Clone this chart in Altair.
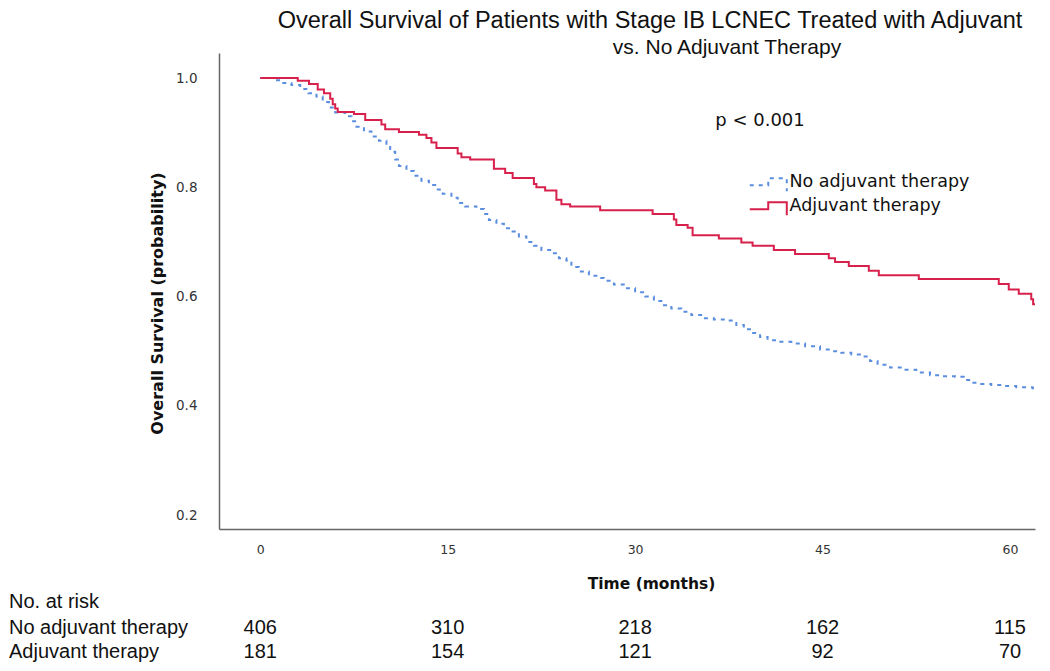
import altair as alt
import pandas as pd

# ---- data ----
groups = ["No adjuvant therapy", "Adjuvant therapy"]

adj_time = [0, 3.0, 3.9, 4.6, 5.1, 5.6, 5.8, 6.0, 6.2, 7.5, 8.4, 9.7, 10.0, 11.1, 12.7, 13.3,
            13.7, 14.1, 15.8, 16.1, 16.8, 18.7, 19.6, 20.2, 21.9, 22.1, 22.8, 23.7, 24.1, 24.8,
            27.2, 31.4, 33.1, 33.3, 34.2, 34.6, 36.7, 38.5, 39.4, 41.1, 42.8, 45.5, 46.0, 47.1,
            48.7, 49.5, 52.7, 59.1, 59.9, 60.7, 61.7, 61.85, 62.0]
adj_surv = [1.0, 0.995, 0.989, 0.979, 0.972, 0.962, 0.952, 0.944, 0.938, 0.934, 0.923, 0.915,
            0.906, 0.901, 0.896, 0.890, 0.882, 0.872, 0.862, 0.855, 0.851, 0.834, 0.826, 0.817,
            0.806, 0.800, 0.794, 0.777, 0.769, 0.765, 0.758, 0.751, 0.741, 0.731, 0.726, 0.712,
            0.706, 0.699, 0.693, 0.685, 0.678, 0.670, 0.663, 0.656, 0.647, 0.639, 0.632, 0.623,
            0.613, 0.605, 0.595, 0.586, 0.586]

noadj_time = [0, 1.07, 1.73, 2.5, 3.2, 3.85, 4.5, 5.0, 5.5, 6.0, 6.8, 7.3, 7.7, 8.3, 8.9, 9.5,
              10.1, 10.4, 10.8, 11.1, 11.7, 12.3, 12.9, 13.5, 14.1, 14.6, 15.3, 15.8, 16.4, 17.3,
              17.9, 18.3, 18.9, 19.5, 20.2, 20.7, 21.3, 21.9, 22.5, 23.3, 23.9, 24.5, 24.9, 25.5,
              26.3, 26.9, 27.5, 28.3, 29.2, 30.0, 30.8, 31.5, 32.1, 32.9, 33.7, 34.5, 35.4, 36.3,
              37.3, 38.1, 38.7, 39.3, 40.0, 40.6, 41.5, 42.5, 43.6, 44.8, 45.6, 46.5, 47.3, 48.1,
              48.8, 49.4, 50.4, 51.4, 52.5, 53.6, 54.6, 55.6, 56.3, 56.9, 57.7, 58.5, 59.5, 60.5,
              61.8, 62.0]
noadj_surv = [1.0, 0.996, 0.991, 0.987, 0.980, 0.972, 0.966, 0.956, 0.946, 0.937, 0.930, 0.921,
              0.911, 0.902, 0.893, 0.885, 0.877, 0.865, 0.851, 0.839, 0.830, 0.821, 0.812, 0.804,
              0.796, 0.788, 0.781, 0.771, 0.765, 0.760, 0.751, 0.740, 0.733, 0.725, 0.719, 0.710,
              0.700, 0.693, 0.685, 0.679, 0.670, 0.666, 0.654, 0.646, 0.638, 0.634, 0.629, 0.622,
              0.615, 0.608, 0.600, 0.592, 0.584, 0.578, 0.572, 0.566, 0.560, 0.558, 0.556, 0.548,
              0.540, 0.533, 0.526, 0.520, 0.517, 0.514, 0.509, 0.503, 0.500, 0.497, 0.494, 0.490,
              0.482, 0.475, 0.470, 0.466, 0.461, 0.456, 0.454, 0.453, 0.447, 0.442, 0.440, 0.438,
              0.436, 0.434, 0.432, 0.432]

risk_months = [0, 15, 30, 45, 60]
risk_noadj = [406, 310, 218, 162, 115]
risk_adj = [181, 154, 121, 92, 70]

x_ticks = [0, 15, 30, 45, 60]
y_ticks = [0.2, 0.4, 0.6, 0.8, 1.0]

title_line1 = "Overall Survival of Patients with Stage IB LCNEC Treated with Adjuvant"
title_line2 = "vs. No Adjuvant Therapy"
p_text = "p < 0.001"

# ---- tables ----
surv = pd.concat([
    pd.DataFrame({"group": groups[0], "time": noadj_time, "surv": noadj_surv}),
    pd.DataFrame({"group": groups[1], "time": adj_time, "surv": adj_surv}),
], ignore_index=True)
risk_a = pd.DataFrame({"month": risk_months, "n": risk_noadj})
risk_b = pd.DataFrame({"month": risk_months, "n": risk_adj})

RED = "#d8204c"
BLUE = "#5b8ede"
TEXT_FONT = "Liberation Sans, Arial, sans-serif"
BOLD_FONT = "DejaVu Sans, sans-serif"

xscale = alt.Scale(domain=[-3.3, 62], nice=False, zero=False)
yscale = alt.Scale(domain=[0.1744, 1.0458], nice=False, zero=False)

# legend symbol: low run, step up, high run, drop at the end (unit = 7 px)
step_path = "M-1,0.5L1.64,0.5L1.64,-0.5L4.29,-0.5L4.29,1.36"

lines = alt.Chart(surv).mark_line(interpolate="step-after", strokeWidth=2).encode(
    x=alt.X("time:Q", scale=xscale,
            axis=alt.Axis(values=x_ticks, ticks=False, grid=False, labelPadding=14,
                          labelFont="DejaVu Sans", labelFontSize=12.5, labelColor="#333",
                          domainColor="#666", domainWidth=1.5,
                          title="Time (months)", titleFont=BOLD_FONT, titleFontSize=15.5,
                          titleFontWeight="bold", titleColor="#111",
                          titleX=432, titleY=54, titleBaseline="middle", titleAlign="center")),
    y=alt.Y("surv:Q", scale=yscale,
            axis=alt.Axis(values=y_ticks, format=".1f", ticks=False, grid=False, labelPadding=22,
                          labelFont="DejaVu Sans", labelFontSize=13.5, labelColor="#333",
                          domainColor="#666", domainWidth=1.5,
                          title="Overall Survival (probability)", titleFont=BOLD_FONT,
                          titleFontSize=16, titleFontWeight="bold", titleColor="#111",
                          titleX=-62, titleY=250, titleAngle=-90, titleBaseline="middle",
                          titleAlign="center")),
    color=alt.Color("group:N", scale=alt.Scale(domain=groups, range=[BLUE, RED]),
                    legend=alt.Legend(title=None, orient="none", legendX=529, legendY=120,
                                      symbolType=step_path, symbolSize=196,
                                      symbolStrokeWidth=2, rowPadding=0, labelLimit=400,
                                      labelFont="DejaVu Sans", labelFontSize=17.5,
                                      labelColor="#111", labelOffset=24)),
    strokeDash=alt.StrokeDash("group:N", scale=alt.Scale(domain=groups, range=[[4, 5], [1, 0]]),
                              legend=None),
    order="time:Q",
)

t1 = alt.Chart().mark_text(font=TEXT_FONT, fontSize=23.5, color="#111", align="center",
                           baseline="top").encode(
    x=alt.value(431), y=alt.value(-44.5), text=alt.value(title_line1))
t2 = alt.Chart().mark_text(font=TEXT_FONT, fontSize=21, color="#111", align="center",
                           baseline="alphabetic").encode(
    x=alt.value(508), y=alt.value(1), text=alt.value(title_line2))
pv = alt.Chart().mark_text(font="DejaVu Sans", fontSize=18, color="#111", align="center",
                           baseline="alphabetic").encode(
    x=alt.value(541), y=alt.value(73), text=alt.value(p_text))

lab0 = alt.Chart().mark_text(font=TEXT_FONT, fontSize=20, color="#111", align="left",
                             baseline="middle").encode(
    x=alt.value(-210), y=alt.value(549), text=alt.value("No. at risk"))
lab1 = alt.Chart().mark_text(font=TEXT_FONT, fontSize=20, color="#111", align="left",
                             baseline="middle").encode(
    x=alt.value(-210), y=alt.value(575), text=alt.value(groups[0]))
lab2 = alt.Chart().mark_text(font=TEXT_FONT, fontSize=20, color="#111", align="left",
                             baseline="middle").encode(
    x=alt.value(-210), y=alt.value(599), text=alt.value(groups[1]))

ra = alt.Chart(risk_a).mark_text(font=TEXT_FONT, fontSize=20, color="#111", align="center",
                                 baseline="middle").encode(
    x=alt.X("month:Q", scale=xscale), y=alt.value(575), text="n:Q")
rb = alt.Chart(risk_b).mark_text(font=TEXT_FONT, fontSize=20, color="#111", align="center",
                                 baseline="middle").encode(
    x=alt.X("month:Q", scale=xscale), y=alt.value(599), text="n:Q")

chart = alt.layer(lines, t1, t2, pv, lab0, lab1, lab2, ra, rb).properties(
    width=816, height=476,
    autosize=alt.AutoSizeParams(type="none"),
    padding={"left": 211, "top": 45, "right": 7, "bottom": 134},
    background="white",
).configure_view(stroke=None)

chart.save("out.html", embed_options={"renderer": "svg", "actions": False})
